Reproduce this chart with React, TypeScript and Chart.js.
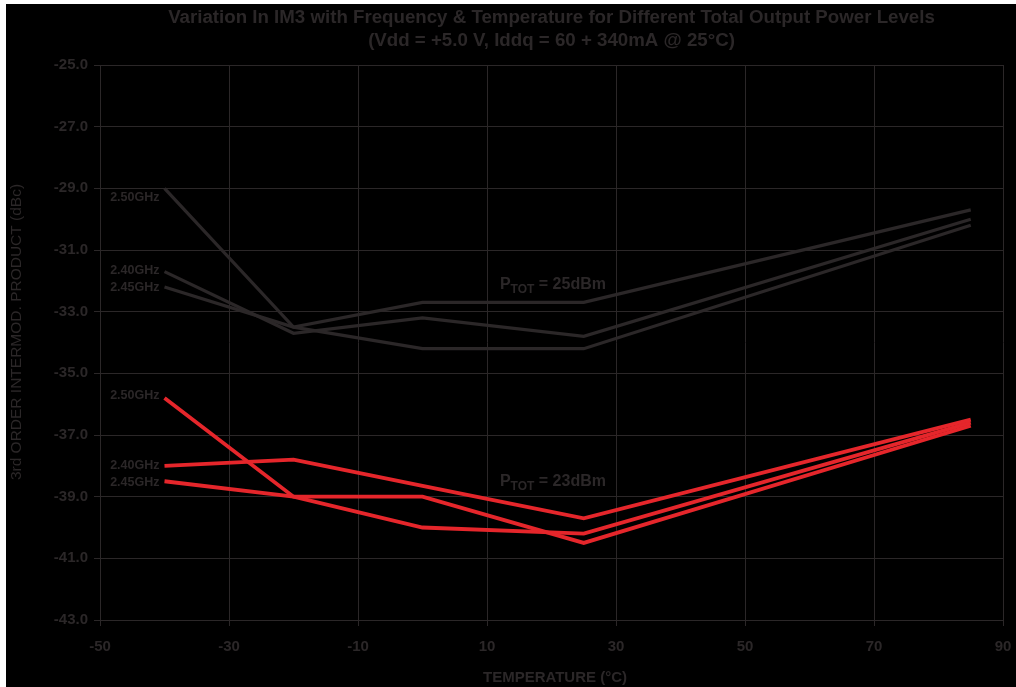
import React, { useEffect, useRef } from "react";
import { Chart, registerables } from "chart.js";

Chart.register(...registerables);

const temps = [-40, -20, 0, 25, 85];

const gray250 = [-29.0, -33.5, -32.7, -32.7, -29.7];
const gray240 = [-31.7, -33.7, -33.2, -33.8, -30.0];
const gray245 = [-32.2, -33.5, -34.2, -34.2, -30.2];

const red250 = [-35.8, -39.0, -39.0, -40.5, -36.7];
const red240 = [-38.0, -37.8, -38.65, -39.7, -36.5];
const red245 = [-38.5, -39.0, -40.0, -40.2, -36.6];

const freqLabels = ["2.50GHz", "2.40GHz", "2.45GHz"];
const powerLabels = ["25dBm", "23dBm"];

const xTicks = [-50, -30, -10, 10, 30, 50, 70, 90];
const yTicks = [-25, -27, -29, -31, -33, -35, -37, -39, -41, -43];

const titleLines = [
  "Variation In IM3 with Frequency & Temperature for Different Total Output Power Levels",
  "(Vdd = +5.0 V, Iddq = 60 + 340mA @ 25°C)",
];
const xTitle = "TEMPERATURE (°C)";
const yTitle = "3rd ORDER INTERMOD. PRODUCT (dBc)";

const GRAY = "#2b2728";
const RED = "#e5262b";
const FONT = "'Liberation Sans', Arial, sans-serif";

const pts = (vals: number[]) => temps.map((t, i) => ({ x: t, y: vals[i] }));

export default function App() {
  const ref = useRef<HTMLCanvasElement | null>(null);

  useEffect(() => {
    if (!ref.current) return;
    const ds = (vals: number[], color: string, w: number) => ({
      data: pts(vals),
      borderColor: color,
      backgroundColor: color,
      borderWidth: w,
      pointRadius: 0,
      tension: 0,
      fill: false,
    });

    const annot = {
      id: "annot",
      afterDraw(chart: any) {
        const ctx = chart.ctx;
        const xs = chart.scales.x;
        const ys = chart.scales.y;
        const ca = chart.chartArea;
        ctx.save();
        ctx.fillStyle = GRAY;
        // title
        ctx.textAlign = "center";
        ctx.textBaseline = "middle";
        ctx.font = `bold 18.7px ${FONT}`;
        const cx = (ca.left + ca.right) / 2;
        ctx.fillText(titleLines[0], cx, 14);
        ctx.fillText(titleLines[1], cx, 37);
        // axis titles
        ctx.font = `bold 15px ${FONT}`;
        ctx.fillText(xTitle, 549, 674);
        ctx.save();
        ctx.translate(11, 328);
        ctx.rotate(-Math.PI / 2);
        ctx.font = `15.5px ${FONT}`;
        ctx.fillText(yTitle, 0, 0);
        ctx.restore();
        // frequency labels
        ctx.font = `bold 12.5px ${FONT}`;
        ctx.textAlign = "right";
        const lx = xs.getPixelForValue(temps[0]) - 5;
        const grayFirst = [gray250[0], gray240[0], gray245[0]];
        const grayOff = [9, -1, 1];
        const redFirst = [red250[0], red240[0], red245[0]];
        const redOff = [-2, 0, 1];
        for (let i = 0; i < 3; i++) {
          ctx.fillText(freqLabels[i], lx, ys.getPixelForValue(grayFirst[i]) + grayOff[i]);
          ctx.fillText(freqLabels[i], lx, ys.getPixelForValue(redFirst[i]) + redOff[i]);
        }
        // power labels
        const drawP = (x: number, y: number, txt: string) => {
          ctx.textAlign = "left";
          ctx.textBaseline = "alphabetic";
          ctx.font = `bold 16px ${FONT}`;
          ctx.fillText("P", x, y);
          let w = ctx.measureText("P").width;
          ctx.font = `bold 12px ${FONT}`;
          ctx.fillText("TOT", x + w, y + 4);
          w += ctx.measureText("TOT").width;
          ctx.font = `bold 16px ${FONT}`;
          ctx.fillText(" = " + txt, x + w, y);
        };
        const px = xs.getPixelForValue(12);
        drawP(px, ys.getPixelForValue(-32.1) + 5, powerLabels[0]);
        drawP(px, ys.getPixelForValue(-38.5) + 5, powerLabels[1]);
        ctx.restore();
      },
    };

    const chart = new Chart(ref.current, {
      type: "line",
      data: {
        datasets: [
          ds(gray250, GRAY, 3.2),
          ds(gray240, GRAY, 3.2),
          ds(gray245, GRAY, 3.2),
          ds(red250, RED, 3.8),
          ds(red240, RED, 3.8),
          ds(red245, RED, 3.8),
        ],
      },
      options: {
        responsive: false,
        animation: false,
        layout: { padding: { top: 61, right: 13, left: 0, bottom: 0 } },
        plugins: {
          legend: { display: false },
          tooltip: { enabled: false },
          title: { display: false },
        },
        scales: {
          x: {
            type: "linear",
            min: -50,
            max: 90,
            afterBuildTicks: (s: any) => {
              s.ticks = xTicks.map((v) => ({ value: v }));
            },
            afterFit: (s: any) => {
              s.height = 67;
              s.paddingRight = 0;
              s.paddingLeft = 0;
            },
            grid: { color: GRAY, lineWidth: 1, tickLength: 6, drawTicks: true },
            border: { color: GRAY, width: 1 },
            ticks: {
              color: GRAY,
              font: { family: FONT, size: 15, weight: "bold" },
              padding: 12,
              maxRotation: 0,
              autoSkip: false,
              callback: (v: any) => String(v),
            },
          },
          y: {
            type: "linear",
            min: -43,
            max: -25,
            afterBuildTicks: (s: any) => {
              s.ticks = yTicks.map((v) => ({ value: v }));
            },
            afterFit: (s: any) => {
              s.width = 94;
              s.paddingTop = 0;
              s.paddingBottom = 0;
            },
            grid: { color: GRAY, lineWidth: 1, tickLength: 6, drawTicks: true },
            border: { color: GRAY, width: 1 },
            ticks: {
              color: GRAY,
              font: { family: FONT, size: 15, weight: "bold" },
              padding: 6,
              autoSkip: false,
              callback: (v: any) => Number(v).toFixed(1),
            },
          },
        },
      },
      plugins: [annot],
    } as any);
    return () => chart.destroy();
  }, []);

  return (
    <div
      style={{
        position: "fixed",
        left: 6,
        top: 4,
        width: 1010,
        height: 683,
        background: "#000",
      }}
    >
      <canvas ref={ref} width={1010} height={683} style={{ display: "block" }} />
    </div>
  );
}
